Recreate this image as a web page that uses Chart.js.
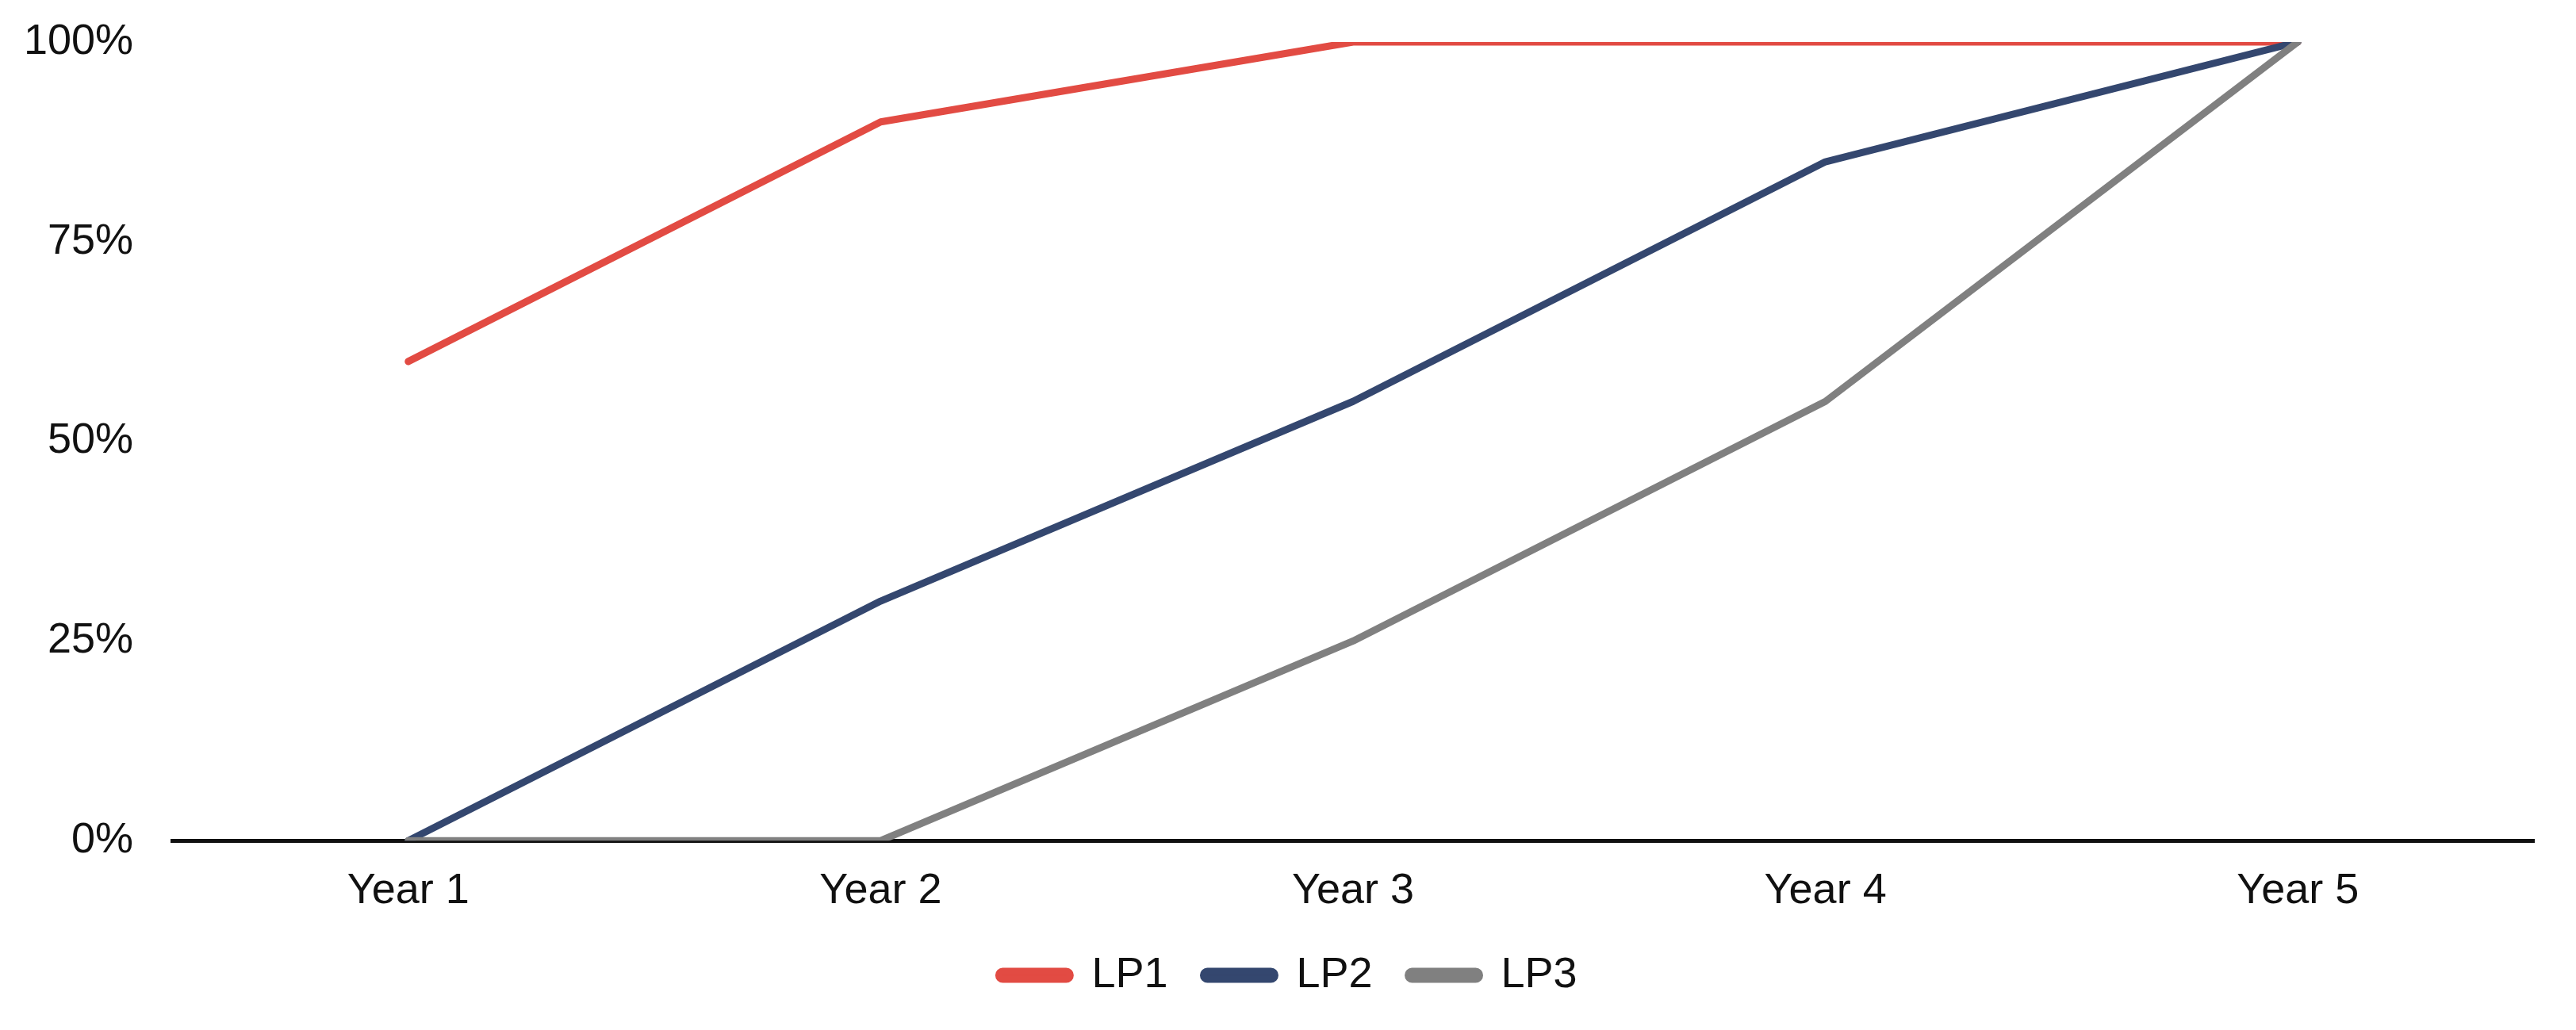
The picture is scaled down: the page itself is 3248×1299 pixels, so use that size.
<!DOCTYPE html>
<html>
<head>
<meta charset="utf-8">
<script src="https://cdn.jsdelivr.net/npm/chart.js@4"></script>
<style>
  html, body { margin: 0; padding: 0; background: #ffffff; }
  #wrap { width: 3248px; height: 1299px; position: relative; }
</style>
</head>
<body>
<div id="wrap"><canvas id="c"></canvas></div>
<script>
const categories = ["Year 1", "Year 2", "Year 3", "Year 4", "Year 5"];
const lp1 = [60, 90, 100, 100, 100];
const lp2 = [0, 30, 55, 85, 100];
const lp3 = [0, 0, 25, 55, 100];
const yTicks = [0, 25, 50, 75, 100];

const FONT = "'Liberation Sans', Arial, sans-serif";

new Chart(document.getElementById('c'), {
  type: 'line',
  data: {
    labels: categories,
    datasets: [
      { label: 'LP1', data: lp1, borderColor: '#E24B43', backgroundColor: '#E24B43', borderWidth: 9, pointRadius: 0, tension: 0, order: 3, borderJoinStyle: 'round', borderCapStyle: 'round' },
      { label: 'LP2', data: lp2, borderColor: '#34476F', backgroundColor: '#34476F', borderWidth: 9, pointRadius: 0, tension: 0, order: 2, borderJoinStyle: 'round', borderCapStyle: 'round' },
      { label: 'LP3', data: lp3, borderColor: '#808080', backgroundColor: '#808080', borderWidth: 9, pointRadius: 0, tension: 0, order: 1, borderJoinStyle: 'round', borderCapStyle: 'round' }
    ]
  },
  options: {
    responsive: true,
    maintainAspectRatio: false,
    animation: false,
    devicePixelRatio: 1,
    layout: { padding: { left: 0, right: 0, top: 0, bottom: 32 } },
    plugins: {
      tooltip: { enabled: false },
      legend: {
        display: true,
        position: 'bottom',
        labels: {
          color: '#111111',
          font: { family: FONT, size: 54 },
          boxWidth: 90,
          boxHeight: 10,
          useBorderRadius: true,
          borderRadius: 5,
          padding: 45,
          sort: (a, b) => a.datasetIndex - b.datasetIndex
        }
      }
    },
    scales: {
      x: {
        offset: true,
        grid: { display: false, drawTicks: false },
        border: { display: true, color: '#111111', width: 5 },
        ticks: { color: '#111111', font: { family: FONT, size: 54 }, padding: 32 },
        afterFit: (axis) => { axis.height -= 31; axis.paddingLeft = 0; axis.paddingRight = 53; }
      },
      y: {
        min: 0,
        max: 100,
        afterBuildTicks: (axis) => { axis.ticks = yTicks.map(v => ({ value: v })); },
        grid: { display: false, drawTicks: false },
        border: { display: false },
        ticks: {
          color: '#111111',
          font: { family: FONT, size: 54 },
          padding: 49,
          callback: (v) => v + '%'
        },
        afterFit: (axis) => { axis.width = 217; axis.paddingTop = 53; }
      }
    }
  }
});
</script>
</body>
</html>
